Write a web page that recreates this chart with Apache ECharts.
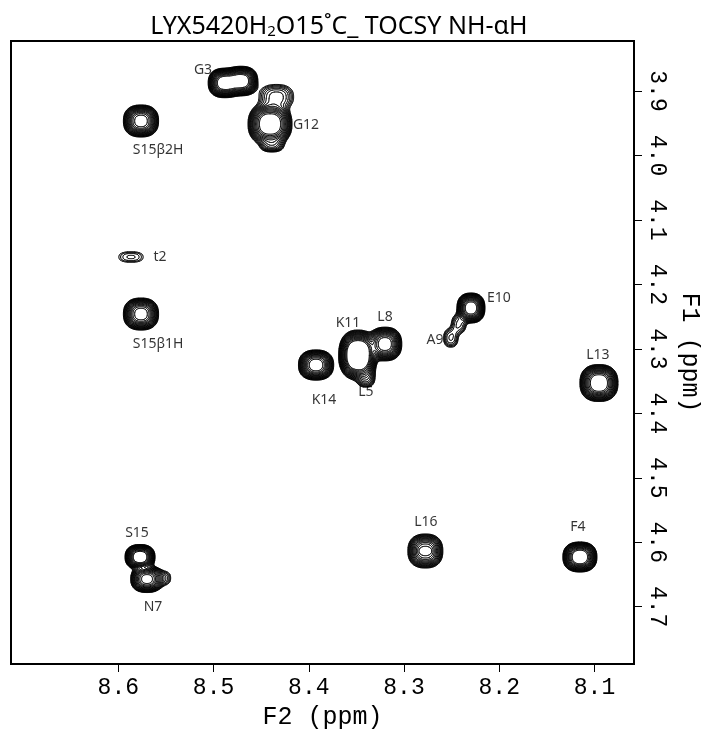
<!DOCTYPE html>
<html><head><meta charset="utf-8">
<script src="https://cdn.jsdelivr.net/npm/echarts@6/dist/echarts.min.js"></script>
<style>html,body{margin:0;padding:0;background:#fff}#c{width:701px;height:729px}</style>
</head><body><div id="c"></div>
<script>
// ---- data (ppm) ----
const xTicks = [8.1, 8.2, 8.3, 8.4, 8.5, 8.6];
const yTicks = [3.9, 4.0, 4.1, 4.2, 4.3, 4.4, 4.5, 4.6, 4.7];

// cross peaks: assignment, F2 (ppm), F1 (ppm), relative height, half-widths (ppm)
const peakNames   = ['S15β2H','S15β1H','t2','G3','G3','G12','G12','G12','K14','K11','L8','L5','E10','A9','A9','L13','S15','N7','N7','L16','L16','L16','F4'];
const peakF2      = [8.5762, 8.5762, 8.5867, 8.4885, 8.4707, 8.4407, 8.4340, 8.4387, 8.3924, 8.3483, 8.3200, 8.3400, 8.2297, 8.2425, 8.2509, 8.0953, 8.5772, 8.5699, 8.5520, 8.2776, 8.2823, 8.2728, 8.1153];
const peakF1      = [3.9465, 4.2460, 4.1575, 3.8875, 3.8845, 3.9512, 3.9090, 3.9838, 4.3251, 4.3096, 4.2925, 4.3450, 4.2366, 4.2614, 4.2832, 4.3530, 4.6229, 4.6571, 4.6556, 4.6136, 4.6136, 4.6136, 4.6229];
const peakHeight  = [21, 21, 1.9, 25, 25, 29, 3.8, 4, 22, 45, 22, 3.5, 23, 2.8, 2.8, 26, 26, 20, 2, 15, 2, 2, 26];
const peakWidthF2 = [0.0116, 0.0116, 0.0153, 0.0105, 0.0105, 0.0139, 0.0160, 0.0105, 0.0115, 0.0116, 0.0110, 0.0084, 0.0091, 0.0074, 0.0074, 0.0122, 0.0096, 0.0108, 0.0080, 0.0121, 0.0032, 0.0032, 0.0109];
const peakWidthF1 = [0.0156, 0.0156, 0.0099, 0.0140, 0.0140, 0.0197, 0.0170, 0.0093, 0.0146, 0.0222, 0.0163, 0.0130, 0.0144, 0.0140, 0.0140, 0.0175, 0.0118, 0.0132, 0.0115, 0.0174, 0.0047, 0.0047, 0.0142];

// assignment labels
const annotText = ['G3','G12','S15β2H','t2','S15β1H','K11','L8','L5','K14','E10','A9','L13','S15','N7','L16','F4'];
const annotF2   = [8.5111, 8.4029, 8.5583, 8.5562, 8.5583, 8.3588, 8.3200, 8.3401, 8.3840, 8.2003, 8.2675, 8.0964, 8.5804, 8.5636, 8.2770, 8.1174];
const annotF1   = [3.8674, 3.9527, 3.9915, 4.1575, 4.2925, 4.2599, 4.2506, 4.3670, 4.3794, 4.2211, 4.2863, 4.3096, 4.5857, 4.7005, 4.5686, 4.5764];

// ---- plot settings ----
const X_MIN = 8.0585, X_MAX = 8.7127, Y_MIN = 3.8224, Y_MAX = 4.7889;
const SHAPE_P = 2.4;
const LEVEL_BASE = 1, LEVEL_FACTOR = 1.22, LEVEL_COUNT = 15;
const levels = [];
for (let k = 0; k < LEVEL_COUNT; k++) levels.push(LEVEL_BASE * Math.pow(LEVEL_FACTOR, k));

const NX = 660, NY = 660;
let field = null;
function buildField() {
  field = new Float32Array(NX * NY);
  const dx = (X_MAX - X_MIN) / (NX - 1), dy = (Y_MAX - Y_MIN) / (NY - 1);
  for (let k = 0; k < peakF2.length; k++) {
    const cx = peakF2[k], cy = peakF1[k], A = peakHeight[k], sx = peakWidthF2[k], sy = peakWidthF1[k];
    const R = 3.3;
    const i0 = Math.max(0, Math.floor((cx - R * sx - X_MIN) / dx)), i1 = Math.min(NX - 1, Math.ceil((cx + R * sx - X_MIN) / dx));
    const j0 = Math.max(0, Math.floor((cy - R * sy - Y_MIN) / dy)), j1 = Math.min(NY - 1, Math.ceil((cy + R * sy - Y_MIN) / dy));
    for (let j = j0; j <= j1; j++) {
      const v = Math.pow(Math.abs((Y_MIN + j * dy - cy) / sy), SHAPE_P);
      for (let i = i0; i <= i1; i++) {
        const u = Math.pow(Math.abs((X_MIN + i * dx - cx) / sx), SHAPE_P);
        field[j * NX + i] += A * Math.exp(-(u + v));
      }
    }
  }
}
function contourSegments(L) {
  if (!field) buildField();
  const segs = [];
  const f = field;
  for (let j = 0; j < NY - 1; j++) {
    for (let i = 0; i < NX - 1; i++) {
      const a = f[j * NX + i], b = f[j * NX + i + 1], c = f[(j + 1) * NX + i + 1], d = f[(j + 1) * NX + i];
      const A = a > L, B = b > L, C = c > L, D = d > L;
      if (A === B && B === C && C === D) continue;
      const e = [null, null, null, null];
      if (A !== B) { const t = (L - a) / (b - a); e[0] = [i + t, j]; }
      if (B !== C) { const t = (L - b) / (c - b); e[1] = [i + 1, j + t]; }
      if (D !== C) { const t = (L - d) / (c - d); e[2] = [i + t, j + 1]; }
      if (A !== D) { const t = (L - a) / (d - a); e[3] = [i, j + t]; }
      const pts = e.filter(p => p);
      if (pts.length === 2) segs.push(pts[0], pts[1]);
      else if (pts.length === 4) {
        const ctr = (a + b + c + d) / 4 > L;
        if (ctr === A) { segs.push(e[0], e[1], e[2], e[3]); }
        else { segs.push(e[3], e[0], e[1], e[2]); }
      }
    }
  }
  return segs;
}

const chart = echarts.init(document.getElementById('c'), null, { renderer: 'canvas' });
const monoFont = 'Liberation Mono';

chart.setOption({
  animation: false,
  backgroundColor: '#fff',
  title: {
    text: 'LYX5420H{sub|2}O15˚C_ TOCSY NH-αH',
    left: 334, top: 9, textAlign: 'center',
    textStyle: {
      fontFamily: 'Noto Sans', fontSize: 25, fontWeight: 'normal', color: '#000',
      rich: { sub: { fontFamily: 'Noto Sans', fontSize: 15, color: '#000', padding: [10, 0, 0, 0] } }
    }
  },
  grid: { left: 11, top: 41, width: 623, height: 623, outerBoundsMode: 'none', containLabel: false, show: true, borderColor: '#000', borderWidth: 2, backgroundColor: '#fff' },
  xAxis: {
    type: 'value', inverse: true, min: X_MIN, max: X_MAX, position: 'bottom',
    axisLine: { show: true, onZero: false, lineStyle: { color: '#000', width: 2 } },
    axisTick: { show: true, customValues: xTicks, length: 8, lineStyle: { color: '#000', width: 1 } },
    axisLabel: { customValues: xTicks, formatter: v => v.toFixed(1), fontFamily: monoFont, fontSize: 23, color: '#000', margin: 12 },
    splitLine: { show: false },
    name: 'F2 (ppm)', nameLocation: 'middle', nameGap: 41,
    nameTextStyle: { fontFamily: monoFont, fontSize: 25, color: '#000' }
  },
  yAxis: {
    type: 'value', inverse: true, min: Y_MIN, max: Y_MAX, position: 'right',
    axisLine: { show: true, onZero: false, lineStyle: { color: '#000', width: 2 } },
    axisTick: { show: true, customValues: yTicks, length: 8, lineStyle: { color: '#000', width: 1 } },
    axisLabel: { customValues: yTicks, formatter: v => v.toFixed(1), rotate: -90, fontFamily: monoFont, fontSize: 23, color: '#000', margin: 12 },
    splitLine: { show: false },
    name: 'F1 (ppm)', nameLocation: 'middle', nameRotate: -90, nameGap: 34,
    nameTextStyle: { fontFamily: monoFont, fontSize: 25, color: '#000' }
  },
  series: [
    {
      type: 'custom',
      coordinateSystem: 'cartesian2d',
      clip: true,
      silent: true,
      data: levels.map(l => [l]),
      renderItem: function (params, api) {
        const L = api.value(0);
        const p0 = api.coord([X_MIN, Y_MIN]), p1 = api.coord([X_MAX, Y_MAX]);
        const kx = (p1[0] - p0[0]) / (NX - 1), ky = (p1[1] - p0[1]) / (NY - 1);
        const segs = contourSegments(L);
        const parts = [];
        for (let s = 0; s < segs.length; s += 2) {
          const a = segs[s], b = segs[s + 1];
          parts.push('M' + (p0[0] + a[0] * kx).toFixed(2) + ' ' + (p0[1] + a[1] * ky).toFixed(2) +
                     'L' + (p0[0] + b[0] * kx).toFixed(2) + ' ' + (p0[1] + b[1] * ky).toFixed(2));
        }
        return {
          type: 'path',
          shape: { pathData: parts.join('') },
          style: { fill: null, stroke: '#000', lineWidth: 0.7, lineCap: 'round' }
        };
      }
    },
    {
      type: 'scatter',
      symbolSize: 2,
      itemStyle: { color: 'rgba(0,0,0,0)' },
      silent: true,
      z: 5,
      data: annotText.map((t, i) => ({ name: t, value: [annotF2[i], annotF1[i]] })),
      label: { show: true, position: 'inside', formatter: '{b}', fontFamily: 'Noto Sans', fontSize: 14, color: '#000' }
    }
  ]
});
</script>
</body></html>
